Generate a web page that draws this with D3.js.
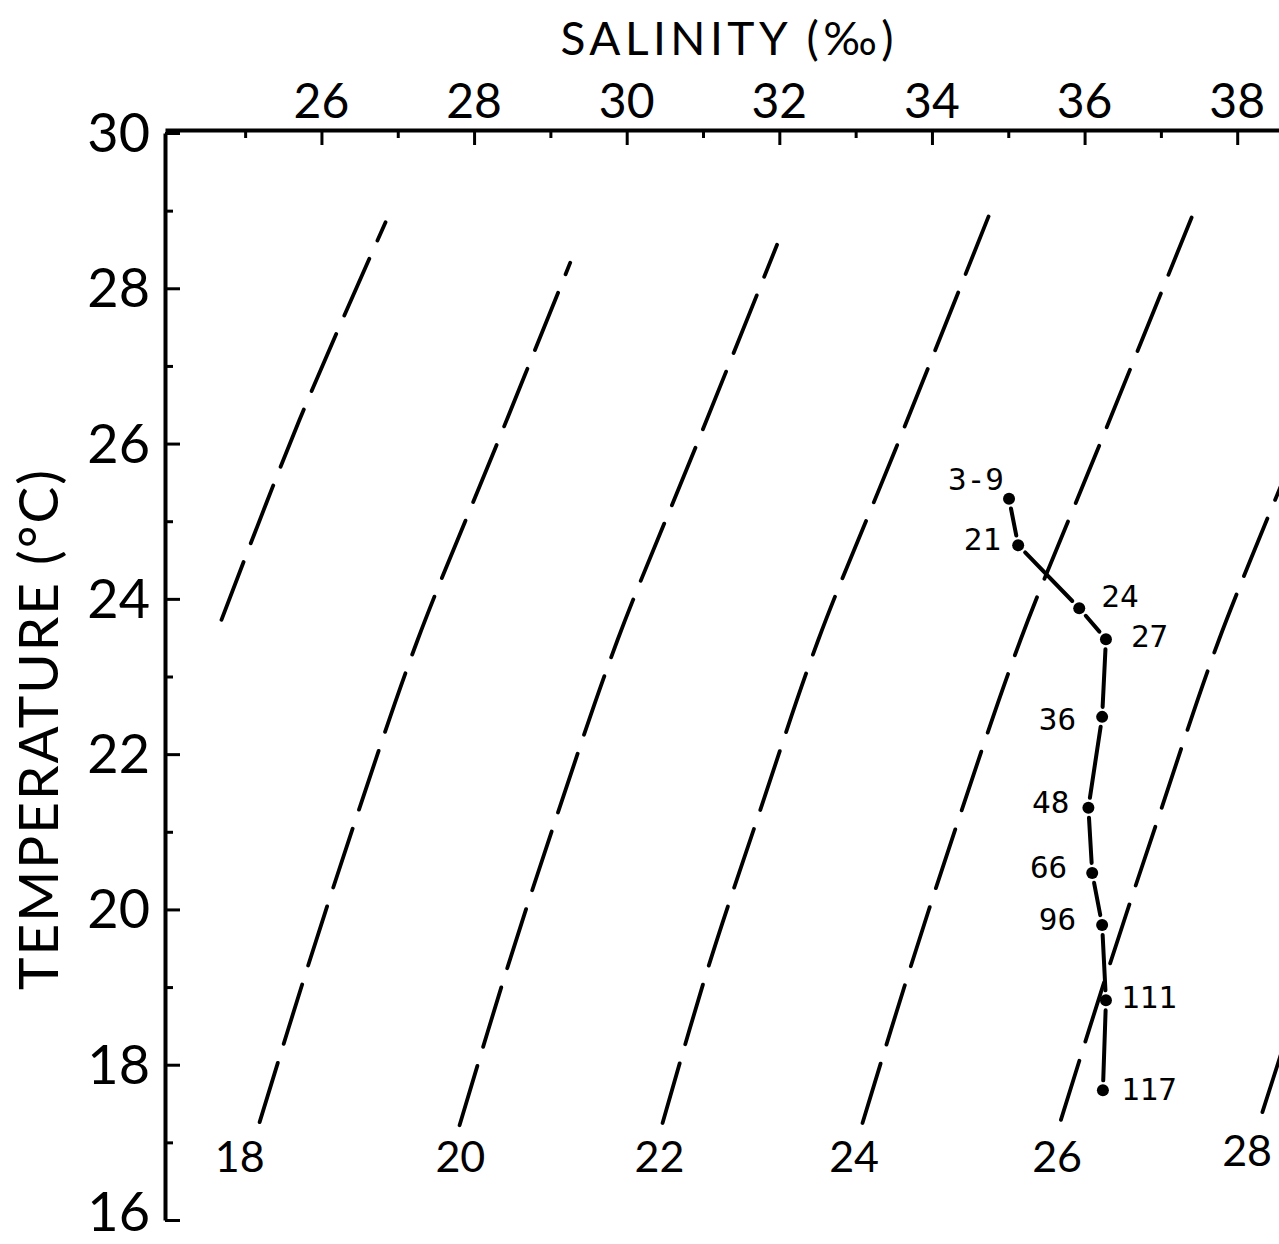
<!DOCTYPE html>
<html>
<head>
<meta charset="utf-8">
<script src="https://cdn.jsdelivr.net/npm/d3@7"></script>
<style>
  html, body { margin: 0; padding: 0; background: #fff; }
  svg { display: block; }
  .axis-num { font-family: Lato, "Open Sans", sans-serif; font-weight: 400; fill: #000; }
  .depth { font-family: "DejaVu Sans Mono", "Liberation Mono", monospace; fill: #000; }
</style>
</head>
<body>
<svg id="chart" width="1279" height="1244"></svg>
<script>
// T-S diagram: salinity on top, temperature down the left, sigma-t isopycnals dashed

// axis ticks
const salinityTicks = [26, 28, 30, 32, 34, 36, 38];
const salinityMinor = [25, 27, 29, 31, 33, 35, 37];
const tempTicks = [16, 18, 20, 22, 24, 26, 28, 30];
const tempMinor = [17, 19, 21, 23, 25, 27, 29];

// station profile (depth in m)
const depthLabels = ['3-9', '21', '24', '27', '36', '48', '66', '96', '111', '117'];
const salinity = [35.01, 35.13, 35.93, 36.28, 36.23, 36.05, 36.10, 36.23, 36.28, 36.24];
const temperature = [25.29, 24.69, 23.88, 23.48, 22.48, 21.31, 20.47, 19.80, 18.83, 17.67];

// sigma-t lines, [salinity, temperature], bottom to top
const sigma16 = [[24.69, 23.73], [25.71, 26.30], [26.84, 28.85]];
const sigma18 = [[25.19, 17.26], [25.82, 19.26], [26.47, 21.22], [27.26, 23.47], [28.27, 25.92], [29.26, 28.33]];
const sigma20 = [[27.81, 17.22], [28.44, 19.26], [29.09, 21.22], [29.88, 23.47], [30.89, 25.92], [31.97, 28.56]];
const sigma22 = [[30.47, 17.25], [31.07, 19.26], [31.73, 21.22], [32.51, 23.47], [33.52, 25.92], [34.76, 28.97]];
const sigma24 = [[33.09, 17.25], [33.72, 19.26], [34.37, 21.22], [35.16, 23.47], [36.17, 25.92], [37.41, 28.93]];
const sigma26 = [[35.69, 17.29], [36.32, 19.26], [36.98, 21.22], [37.76, 23.47], [38.77, 25.92]];
const sigma28 = [[38.33, 17.39], [38.94, 19.26]];

const sigmaLabels = ['18', '20', '22', '24', '26', '28'];
const sigmaLabelSal = [24.93, 27.82, 30.43, 32.98, 35.64, 38.13];
const sigmaLabelTemp = [16.62, 16.62, 16.62, 16.62, 16.62, 16.70];

// where each depth label sits relative to its dot
const labelPlace = [
    {dx: -5, dy: -9, anchor: 'end'},
    {dx: -17, dy: 5, anchor: 'end'},
    {dx: 22, dy: -1, anchor: 'start'},
    {dx: 25, dy: 8, anchor: 'start'},
    {dx: -26, dy: 13, anchor: 'end'},
    {dx: -19, dy: 5, anchor: 'end'},
    {dx: -25, dy: 5, anchor: 'end'},
    {dx: -26, dy: 5, anchor: 'end'},
    {dx: 15, dy: 8, anchor: 'start'},
    {dx: 18, dy: 10, anchor: 'start'}
];

const svg = d3.select('#chart');

const x = d3.scaleLinear().domain([23.95, 38.6]).range([165, 1283]);
const y = d3.scaleLinear().domain([30, 16]).range([133, 1220]);

// isopycnals
const isoLine = d3.line()
    .x(d => x(d[0]))
    .y(d => y(d[1]))
    .curve(d3.curveCatmullRom);

[sigma16, sigma18, sigma20, sigma22, sigma24, sigma26, sigma28].forEach(pts => {
    svg.append('path')
        .attr('d', isoLine(pts))
        .attr('fill', 'none')
        .attr('stroke', '#000')
        .attr('stroke-width', 3.8)
        .attr('stroke-linecap', 'round')
        .attr('stroke-dasharray', '62,20');
});

svg.selectAll('.sigma-label')
    .data(sigmaLabels)
    .enter().append('text')
    .attr('class', 'axis-num')
    .attr('x', (d, i) => x(sigmaLabelSal[i]))
    .attr('y', (d, i) => y(sigmaLabelTemp[i]))
    .attr('text-anchor', 'middle')
    .style('font-size', '43px')
    .text(d => d);

// top axis (salinity)
const topAxis = svg.append('g').attr('transform', 'translate(0,130)');
topAxis.call(d3.axisTop(x).tickValues(salinityTicks).tickSizeInner(-15).tickSizeOuter(0).tickFormat(''));
topAxis.call(g => g.select('.domain').attr('stroke-width', 4));
topAxis.selectAll('.tick line').attr('stroke-width', 3);
const topMinor = svg.append('g').attr('transform', 'translate(0,130)');
topMinor.call(d3.axisTop(x).tickValues(salinityMinor).tickSizeInner(-8).tickSizeOuter(0).tickFormat(''));
topMinor.select('.domain').remove();
topMinor.selectAll('.tick line').attr('stroke-width', 3);

svg.selectAll('.sal-label')
    .data(salinityTicks)
    .enter().append('text')
    .attr('class', 'axis-num')
    .attr('x', d => x(d))
    .attr('y', 118)
    .attr('text-anchor', 'middle')
    .style('font-size', '48px')
    .text(d => d);

// left axis (temperature)
const leftAxis = svg.append('g').attr('transform', 'translate(165,0)');
leftAxis.call(d3.axisLeft(y).tickValues(tempTicks).tickSizeInner(-15).tickSizeOuter(0).tickFormat(''));
leftAxis.call(g => g.select('.domain').attr('stroke-width', 4));
leftAxis.selectAll('.tick line').attr('stroke-width', 3);
const leftMinor = svg.append('g').attr('transform', 'translate(165,0)');
leftMinor.call(d3.axisLeft(y).tickValues(tempMinor).tickSizeInner(-8).tickSizeOuter(0).tickFormat(''));
leftMinor.select('.domain').remove();
leftMinor.selectAll('.tick line').attr('stroke-width', 3);

// bottom label sits tight to the page edge, so keep its baseline inside
svg.selectAll('.temp-label')
    .data(tempTicks)
    .enter().append('text')
    .attr('class', 'axis-num')
    .attr('x', 150)
    .attr('y', d => Math.min(y(d) + 19, 1231))
    .attr('text-anchor', 'end')
    .style('font-size', '54px')
    .text(d => d);

// axis titles
svg.append('text')
    .attr('class', 'axis-num')
    .attr('x', 727)
    .attr('y', 55)
    .attr('text-anchor', 'middle')
    .attr('textLength', 333)
    .style('font-size', '46px')
    .text('SALINITY (‰)');

svg.append('text')
    .attr('class', 'axis-num')
    .attr('transform', 'translate(58,730) rotate(-90)')
    .attr('text-anchor', 'middle')
    .attr('textLength', 520)
    .style('font-size', '55px')
    .text('TEMPERATURE (°C)');

// profile: short segments between dots, broken near each dot
const gap = 10;
for (let i = 0; i < salinity.length - 1; i++) {
    const x0 = x(salinity[i]), y0 = y(temperature[i]);
    const x1 = x(salinity[i + 1]), y1 = y(temperature[i + 1]);
    const len = Math.hypot(x1 - x0, y1 - y0);
    const ux = (x1 - x0) / len, uy = (y1 - y0) / len;
    svg.append('line')
        .attr('x1', x0 + ux * gap).attr('y1', y0 + uy * gap)
        .attr('x2', x1 - ux * gap).attr('y2', y1 - uy * gap)
        .attr('stroke', '#000')
        .attr('stroke-width', 4)
        .attr('stroke-linecap', 'round');
}

svg.selectAll('.dot')
    .data(depthLabels)
    .enter().append('circle')
    .attr('cx', (d, i) => x(salinity[i]))
    .attr('cy', (d, i) => y(temperature[i]))
    .attr('r', 6)
    .attr('fill', '#000');

svg.selectAll('.depth')
    .data(depthLabels)
    .enter().append('text')
    .attr('class', 'depth')
    .attr('x', (d, i) => x(salinity[i]) + labelPlace[i].dx)
    .attr('y', (d, i) => y(temperature[i]) + labelPlace[i].dy)
    .attr('text-anchor', (d, i) => labelPlace[i].anchor)
    .style('font-size', '31px')
    .text(d => d);
</script>
</body>
</html>
